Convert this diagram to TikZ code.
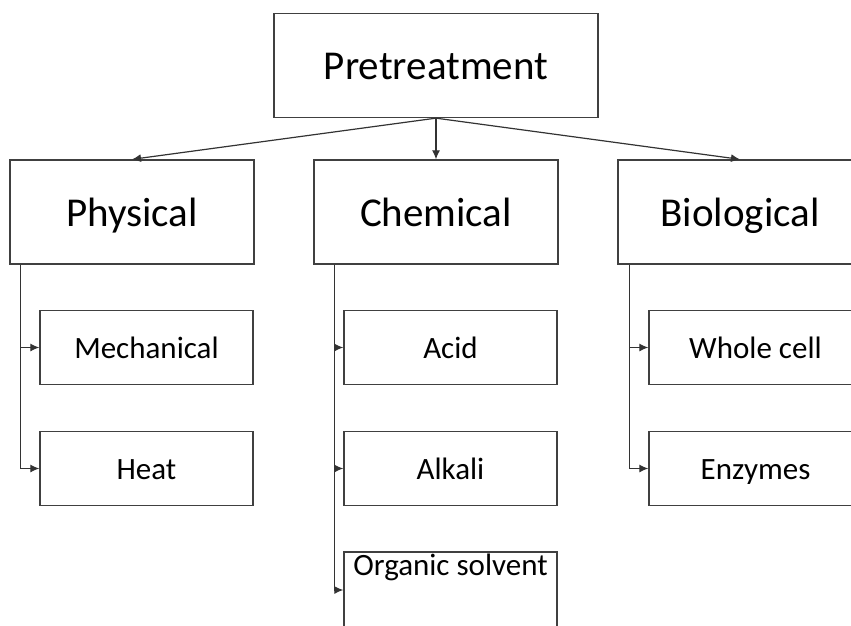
\documentclass[tikz,border=0pt]{standalone}
\usepackage{fontspec}
\setmainfont{Carlito}
\usetikzlibrary{arrows.meta}

\newcommand{\bigfont}{\fontsize{41}{49}\selectfont}
\newcommand{\subfont}{\fontsize{31}{37}\selectfont}

\begin{document}
\begin{tikzpicture}[x=1pt,y=-1pt,
		every node/.style={draw=black!75,line width=1.3pt,text=black},
		topbox/.style={minimum width=324pt,minimum height=104pt,font=\bigfont,text height=28pt,text depth=0pt},
		groupbox/.style={minimum width=244pt,minimum height=104pt,font=\bigfont,text height=29pt,text depth=0pt},
		itembox/.style={minimum width=213pt,minimum height=74pt,font=\subfont,text height=22.5pt,text depth=0pt},
		link/.style={draw=black!80,line width=1.2pt,-{Latex[length=9pt,width=8pt]}}]
		\useasboundingbox (0,0) rectangle (851,626);
		\clip (0,0) rectangle (851,626);
		% top
		\node[topbox](pre) at (436,65.5){Pretreatment};
		% groups
		\node[groupbox](phys) at (132,212){Physical};
		\node[groupbox](chem) at (436,212){Chemical};
		\node[groupbox](bio) at (740,212){Biological};
		% items
		\node[itembox](mech) at (146.5,347.5){Mechanical};
		\node[itembox](heat) at (146.5,468.5){Heat};
		\node[itembox](acid) at (450.5,347.5){Acid};
		\node[itembox](alk) at (450.5,468.5){Alkali};
		\node[itembox,minimum height=76pt,
			label={[draw=none,font=\subfont,anchor=north,inner sep=1pt,text height=22.5pt,text depth=0pt]north:Organic solvent}](org) at (450.5,590){};
		\node[itembox](whole) at (755.5,347.5){Whole cell};
		\node[itembox](enz) at (755.5,468.5){Enzymes};
		% arrows
		\draw[link] (pre.south) -- (phys.north);
		\draw[link] (pre.south) -- (chem.north);
		\draw[link] (pre.south) -- (bio.north);
		\draw[link] ([xshift=11pt]phys.south west) |- (mech.west);
		\draw[link] ([xshift=11pt]phys.south west) |- (heat.west);
		\draw[link] ([xshift=21pt]chem.south west) |- (acid.west);
		\draw[link] ([xshift=21pt]chem.south west) |- (alk.west);
		\draw[link] ([xshift=21pt]chem.south west) |- (org.west);
		\draw[link] ([xshift=12pt]bio.south west) |- (whole.west);
		\draw[link] ([xshift=12pt]bio.south west) |- (enz.west);
	\end{tikzpicture}
\end{document}
